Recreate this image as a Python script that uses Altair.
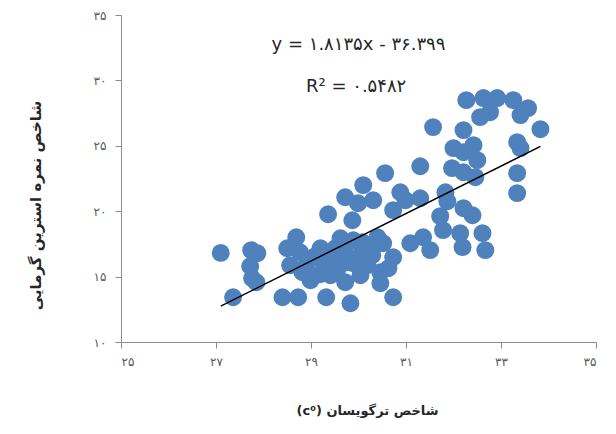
import altair as alt
import pandas as pd

# scatter values
x_vals = [27.10, 27.36, 27.74, 27.87, 27.72, 27.76, 27.85, 28.40, 28.73, 28.69,
          28.50, 28.77, 28.56, 28.90, 28.99, 29.20, 29.26, 29.41, 29.55, 29.32,
          29.83, 29.36, 29.62, 29.89, 29.89, 30.19, 30.40, 30.52, 30.46, 30.46,
          30.73, 30.73, 29.87, 29.72, 29.99, 30.10, 30.31, 30.56, 30.88, 30.99,
          30.73, 31.30, 31.30, 31.09, 31.36, 31.51, 31.78, 31.72, 31.83, 31.87,
          32.21, 32.40, 32.14, 32.61, 32.19, 32.67, 31.57, 32.27, 32.63, 32.92,
          33.26, 33.57, 33.41, 32.56, 32.77, 33.83, 32.21, 32.00, 32.42, 32.21,
          32.50, 31.97, 32.21, 32.46, 33.34, 33.41, 33.34, 33.34, 29.72, 30.08,
          30.29, 29.09, 29.41, 29.51, 29.76, 30.08, 30.29, 30.63, 28.82, 29.19,
          29.72, 30.04]
y_vals = [16.81, 13.42, 17.02, 16.79, 15.79, 14.87, 14.57, 13.42, 13.42, 18.01,
          17.17, 16.86, 15.87, 15.87, 14.72, 17.17, 16.10, 15.10, 15.49, 13.42,
          12.96, 19.77, 17.93, 17.78, 16.02, 15.87, 18.01, 17.55, 15.33, 14.49,
          16.48, 13.42, 19.31, 21.07, 20.61, 21.99, 20.84, 22.91, 21.45, 20.84,
          20.08, 23.44, 20.99, 17.55, 18.01, 17.02, 18.55, 19.62, 21.45, 20.76,
          20.23, 19.69, 18.32, 18.32, 17.25, 17.02, 26.43, 28.49, 28.65, 28.65,
          28.49, 27.88, 27.35, 27.19, 27.57, 26.27, 26.20, 24.82, 25.05, 24.51,
          23.90, 23.29, 22.98, 22.60, 25.28, 24.82, 22.91, 21.38, 16.86, 16.86,
          16.63, 16.56, 16.40, 17.17, 16.10, 17.63, 17.17, 15.64, 15.33, 15.18,
          14.57, 15.10]

# trend line as printed on the chart
slope = 1.8135
intercept = -36.399
eq_text = "y = ۱.۸۱۳۵x - ۳۶.۳۹۹"
r2_text = "R² = ۰.۵۴۸۲"
ann_x = [30.0, 29.95]
ann_y = [32.7, 29.5]

x_ticks = [25, 27, 29, 31, 33, 35]
x_tick_labels = ["۲۵", "۲۷", "۲۹", "۳۱", "۳۳", "۳۵"]
y_ticks = [10, 15, 20, 25, 30, 35]
y_tick_labels = ["۱۰", "۱۵", "۲۰", "۲۵", "۳۰", "۳۵"]

x_title = "(c⁰) شاخص ترگویسان"
y_title = "شاخص نمره استرین گرمایی"

FONT = "DejaVu Sans"
BLUE = "#4F81BD"
AXIS_GREY = "#8C8C8C"


def lab_expr(vals, labs):
    return " : ".join(f"datum.value == {v} ? '{l}'" for v, l in zip(vals, labs)) + " : ''"


pts = pd.DataFrame({"x": x_vals, "y": y_vals})
xmin, xmax = min(x_vals), max(x_vals)
line_df = pd.DataFrame({"x": [xmin, xmax],
                        "y": [slope * xmin + intercept, slope * xmax + intercept]})
ann_df = pd.DataFrame({"x": ann_x, "y": ann_y, "t": [eq_text, r2_text]})

xscale = alt.Scale(domain=[25, 35], nice=False, zero=False)
yscale = alt.Scale(domain=[10, 35], nice=False, zero=False)

xaxis = alt.Axis(values=x_ticks, labelExpr=lab_expr(x_ticks, x_tick_labels),
                 title=x_title, grid=False, domainColor=AXIS_GREY, tickColor=AXIS_GREY,
                 tickSize=6, labelPadding=8, labelFont=FONT, labelFontSize=12,
                 labelColor="#595959", titleFont=FONT, titleFontSize=13,
                 titleFontWeight="bold", titleColor="#262626",
                 titleX=246, titleY=62, titleBaseline="top")
yaxis = alt.Axis(values=y_ticks, labelExpr=lab_expr(y_ticks, y_tick_labels),
                 title=y_title, grid=False, domainColor=AXIS_GREY, tickColor=AXIS_GREY,
                 tickSize=6, labelPadding=9, labelFont=FONT, labelFontSize=12,
                 labelColor="#595959", titleFont=FONT, titleFontSize=15,
                 titleFontWeight="bold", titleColor="#262626",
                 titleX=-86, titleY=190, titleAngle=270, titleBaseline="middle",
                 titleAlign="center")

scatter = alt.Chart(pts).mark_circle(size=320, opacity=1, color=BLUE).encode(
    x=alt.X("x:Q", scale=xscale, axis=xaxis),
    y=alt.Y("y:Q", scale=yscale, axis=yaxis),
)

trend = alt.Chart(line_df).mark_line(color="black", strokeWidth=1.5).encode(
    x=alt.X("x:Q", scale=xscale), y=alt.Y("y:Q", scale=yscale))

ann = alt.Chart(ann_df).mark_text(font=FONT, fontSize=18, color="#262626").encode(
    x=alt.X("x:Q", scale=xscale), y=alt.Y("y:Q", scale=yscale), text="t:N")

chart = (scatter + trend + ann).properties(
    width=475, height=327, autosize="none",
    padding={"left": 113, "top": 7, "right": 12, "bottom": 84},
).configure_view(stroke=None)

chart.save("out.html", embed_options={"renderer": "svg", "actions": False})
